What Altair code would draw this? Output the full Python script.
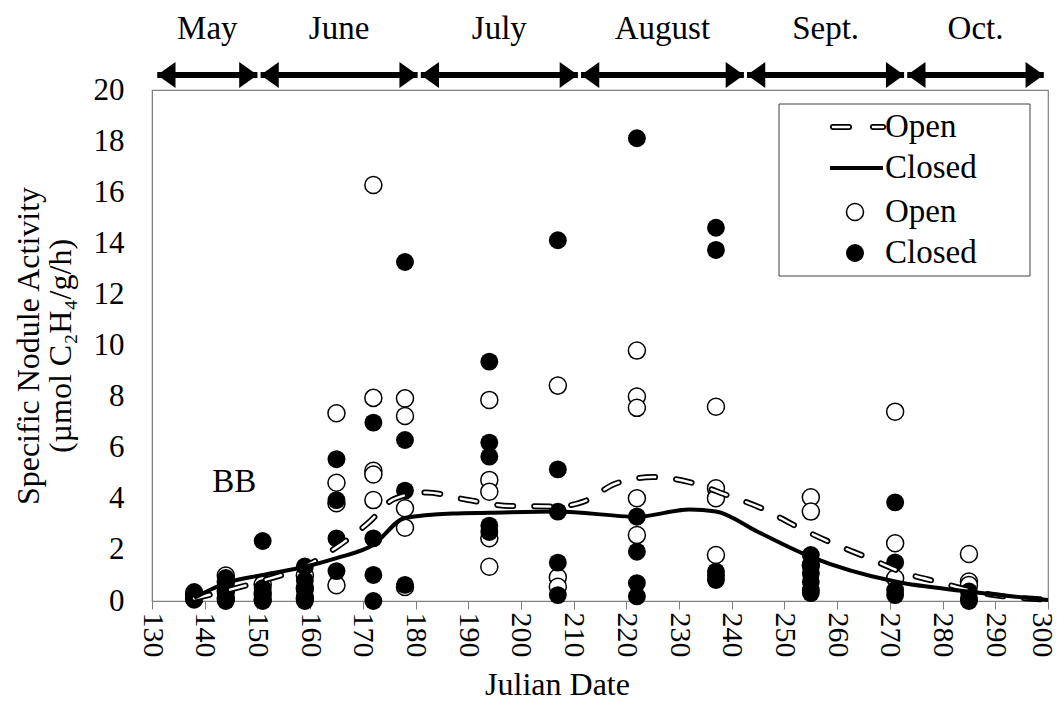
import altair as alt
import pandas as pd

FONT = "Liberation Serif"

# ---- observations (Julian date, specific nodule activity) ----
dates = [138, 144, 151, 159, 165, 172, 178, 194, 207, 222, 237, 255, 271, 285]
open_obs = [
    [0.25, 0.1],
    [1.0, 0.75, 0.4, 0.1],
    [0.65, 0.3, 0.05],
    [1.0, 0.5, 0.1],
    [7.35, 4.63, 3.83, 0.62],
    [16.28, 7.95, 5.1, 4.95, 3.95],
    [7.93, 7.24, 3.63, 2.87, 0.55],
    [7.87, 4.74, 4.28, 2.46, 1.34],
    [8.43, 0.93, 0.56],
    [9.8, 8.0, 7.56, 4.02, 2.58],
    [7.6, 4.41, 4.02, 1.8],
    [4.06, 3.5, 1.41],
    [7.41, 2.26, 0.89],
    [1.84, 0.76, 0.63],
]
closed_obs = [
    [0.35, 0.15, 0.05],
    [0.9, 0.6, 0.3, 0.1, 0.0],
    [2.35, 0.5, 0.2, 0.0],
    [1.35, 0.8, 0.45, 0.2, 0.0],
    [5.55, 3.95, 2.45, 1.17],
    [6.98, 2.45, 1.02, 0.0],
    [13.27, 6.3, 4.32, 0.63],
    [9.37, 6.2, 5.65, 2.95, 2.7],
    [14.12, 5.15, 3.5, 1.5, 0.23],
    [18.11, 3.3, 1.93, 0.7, 0.18],
    [14.61, 13.74, 1.15, 1.0, 0.82],
    [1.8, 1.4, 1.08, 0.75, 0.43, 0.31],
    [3.86, 1.51, 0.43, 0.23],
    [0.37, 0.12, 0.0],
]

# ---- smoothed trend curves ----
closed_curve_x = [138, 144, 151, 159, 165, 172, 178, 187, 194, 207, 222, 232, 237, 245, 255, 271, 285, 300]
closed_curve_y = [0.12, 0.7, 1.02, 1.34, 1.68, 2.2, 3.25, 3.42, 3.45, 3.5, 3.3, 3.58, 3.5, 2.7, 1.73, 0.76, 0.37, 0.04]
open_curve_x = [138, 144, 151, 159, 165, 171, 176, 182, 190, 198, 207, 212, 218, 225, 232, 239, 246, 252, 259, 266, 272, 280, 286, 300]
open_curve_y = [0.1, 0.4, 0.8, 1.35, 2.1, 3.05, 4.0, 4.25, 3.95, 3.72, 3.7, 3.9, 4.6, 4.85, 4.65, 4.15, 3.6, 2.95, 2.27, 1.68, 1.15, 0.7, 0.37, 0.05]

# ---- month bands ----
month_names = ["May", "June", "July", "August", "Sept.", "Oct."]
month_start = [131, 150.6, 181, 211.4, 242.9, 273.3]
month_end = [150, 180.4, 210.8, 242.3, 272.7, 299.2]

x_ticks = list(range(130, 301, 10))
y_ticks = list(range(0, 21, 2))

rows = []
for d, vals in zip(dates, open_obs):
    for v in vals:
        rows.append({"date": d, "value": v, "group": "Open"})
open_df = pd.DataFrame(rows)
rows = []
for d, vals in zip(dates, closed_obs):
    for v in vals:
        rows.append({"date": d, "value": v, "group": "Closed"})
closed_df = pd.DataFrame(rows)
closed_curve = pd.DataFrame({"date": closed_curve_x, "value": closed_curve_y})
open_curve = pd.DataFrame({"date": open_curve_x, "value": open_curve_y})
months = pd.DataFrame({"name": month_names, "start": month_start, "end": month_end})
months["mid"] = (months["start"] + months["end"]) / 2

xscale = alt.Scale(domain=[130, 300], nice=False, zero=False)
yscale = alt.Scale(domain=[0, 20], nice=False)

xenc = alt.X("date:Q", scale=xscale, axis=alt.Axis(
    values=x_ticks, labelAngle=90, labelAlign="left", labelBaseline="middle",
    labelFont=FONT, labelFontSize=30, labelColor="black", labelPadding=3,
    labelOffset={"condition": {"test": "datum.value >= 300", "value": -7}, "value": 0},
    tickSize=8, tickColor="#808080", domainColor="#808080", grid=False,
    labelOverlap=False, labelFlush=False,
    title="Julian Date", titleFont=FONT, titleFontSize=32, titleFontWeight="normal",
    titleColor="black", titleX=405, titleY=93, titleAlign="center",
    titleBaseline="alphabetic"))
yenc = alt.Y("value:Q", scale=yscale, axis=alt.Axis(
    values=y_ticks, ticks=False, labelPadding=28,
    labelFont=FONT, labelFontSize=31, labelColor="black",
    domainColor="#808080", grid=False,
    title=["Specific Nodule Activity", "(µmol C₂H₄/g/h)"],
    titleFont=FONT, titleFontSize=32, titleFontWeight="normal", titleColor="black",
    titlePadding=16, titleLineHeight=32))

open_pts = alt.Chart(open_df).mark_point(
    shape="circle", filled=True, fill="white", stroke="black", strokeWidth=1.5,
    size=290, opacity=1).encode(x=xenc, y=yenc)
closed_pts = alt.Chart(closed_df).mark_circle(
    color="black", size=320, opacity=1).encode(x="date:Q", y="value:Q")

dash_outer = alt.Chart(open_curve).mark_line(
    color="black", strokeWidth=6, strokeDash=[16, 21], strokeCap="round",
    interpolate="monotone").encode(x="date:Q", y="value:Q")
dash_inner = alt.Chart(open_curve).mark_line(
    color="white", strokeWidth=2.5, strokeDash=[16, 21], strokeCap="round",
    interpolate="monotone").encode(x="date:Q", y="value:Q")
solid = alt.Chart(closed_curve).mark_line(
    color="black", strokeWidth=4, interpolate="monotone").encode(x="date:Q", y="value:Q")

bb = alt.Chart(pd.DataFrame({"date": [145.6], "value": [4.66], "t": ["BB"]})).mark_text(
    font=FONT, fontSize=33, color="black", align="center", baseline="middle"
).encode(x="date:Q", y="value:Q", text="t:N")

# month arrows above the plot
shaft = alt.Chart(months).mark_rule(color="black", strokeWidth=6).encode(
    x="start:Q", x2="end:Q", y=alt.value(-15))
head_l = alt.Chart(months).mark_point(
    shape="M0,0L1.4,-1L1.4,1Z", filled=True, color="black", size=676, opacity=1,
    strokeWidth=0).encode(x="start:Q", y=alt.value(-15))
head_r = alt.Chart(months).mark_point(
    shape="M0,0L-1.4,-1L-1.4,1Z", filled=True, color="black", size=676, opacity=1,
    strokeWidth=0).encode(x="end:Q", y=alt.value(-15))
mlabels = alt.Chart(months).mark_text(
    font=FONT, fontSize=33, color="black", align="center", baseline="middle").encode(
    x="mid:Q", y=alt.value(-61), text="name:N")

# legend
one = pd.DataFrame({"a": [0]})
leg_box = alt.Chart(one).mark_rect(fill="white", stroke="#404040", strokeWidth=1).encode(
    x=alt.value(627), x2=alt.value(878), y=alt.value(14), y2=alt.value(186))
leg_d1 = alt.Chart(one).mark_rule(color="black", strokeWidth=6, strokeDash=[16, 24],
                                  strokeCap="round").encode(
    x=alt.value(681), x2=alt.value(731), y=alt.value(37))
leg_d2 = alt.Chart(one).mark_rule(color="white", strokeWidth=2.5, strokeDash=[16, 24],
                                  strokeCap="round").encode(
    x=alt.value(681), x2=alt.value(731), y=alt.value(37))
leg_s = alt.Chart(one).mark_rule(color="black", strokeWidth=4).encode(
    x=alt.value(678), x2=alt.value(731), y=alt.value(78))
leg_o = alt.Chart(one).mark_point(shape="circle", filled=True, fill="white", stroke="black",
                                  strokeWidth=1.5, size=290, opacity=1).encode(
    x=alt.value(703), y=alt.value(122))
leg_c = alt.Chart(one).mark_circle(color="black", size=320, opacity=1).encode(
    x=alt.value(703), y=alt.value(163))
leg_texts = []
for lbl, yy in zip(["Open", "Closed", "Open", "Closed"], [37, 78, 122, 163]):
    leg_texts.append(alt.Chart(pd.DataFrame({"t": [lbl]})).mark_text(
        font=FONT, fontSize=33, color="black", align="left", baseline="middle").encode(
        x=alt.value(733), y=alt.value(yy), text="t:N"))

chart = alt.layer(
    open_pts, closed_pts, dash_outer, dash_inner, solid, bb,
    shaft, head_l, head_r, mlabels,
    leg_box, leg_d1, leg_d2, leg_s, leg_o, leg_c, *leg_texts
).properties(
    width=896, height=511,
    autosize=alt.AutoSizeParams(type="none"),
    padding={"left": 144, "top": 82, "right": 6, "bottom": 101},
).configure_view(stroke="#808080", strokeWidth=1.2)

chart.save("out.html", embed_options={"renderer": "svg", "actions": False})
